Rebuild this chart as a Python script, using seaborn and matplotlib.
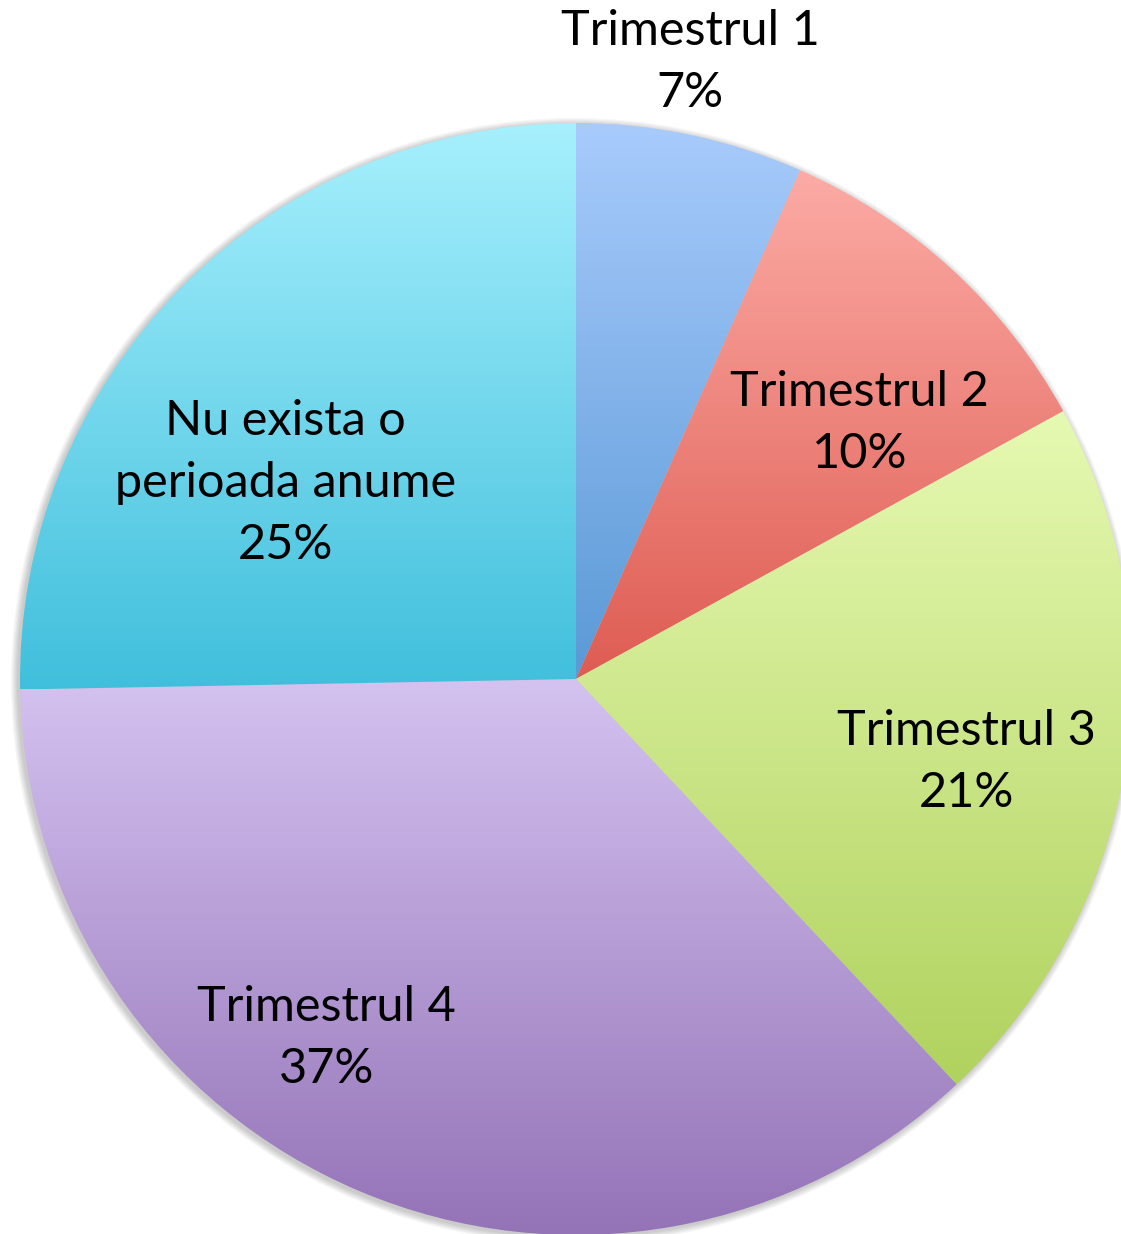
import numpy as np
import matplotlib
matplotlib.use("Agg")
import matplotlib.pyplot as plt
import seaborn as sns
from matplotlib.colors import LinearSegmentedColormap

sns.set_theme(style="white")
plt.rcParams['font.family'] = ['Lato', 'DejaVu Sans']

# data
names = ["Trimestrul 1", "Trimestrul 2", "Trimestrul 3", "Trimestrul 4", "Nu exista o\nperioada anume"]
values = [6.6, 10.4, 21.0, 36.7, 25.3]
shown_pct = [7, 10, 21, 37, 25]

# gradient colours (top, bottom) for each slice
top_cols = ["#a8cbfc", "#fcaba5", "#e6f9b2", "#d4c2f0", "#a7f0fd"]
bot_cols = ["#5a99d6", "#de5c52", "#b0d25e", "#9473b7", "#40bfdc"]

# label placement: radius as fraction of R, angle tweak in degrees
label_r = [1.128, 0.687, 0.718, 0.786, 0.63]
label_dang = [-1.4, 5.5, 3.0, 12.0, -10.5]

W, H = 1121, 1234
fig = plt.figure(figsize=(W / 100, H / 100), dpi=100)
ax = fig.add_axes([0, 0, 1, 1])

cx, cy, R = 576, H - 679, 556

wedges, _ = ax.pie(values, center=(cx, cy), radius=R, startangle=90,
                   counterclock=False, wedgeprops=dict(linewidth=0))

# soft shadow behind the pie
for k in range(6):
    ax.add_patch(plt.Circle((cx - 2, cy - 2), R + 1 + k * 1.2, color="black",
                            alpha=0.035, zorder=0, lw=0))

grad = np.linspace(0, 1, 256).reshape(-1, 1)
for w, c1, c2 in zip(wedges, top_cols, bot_cols):
    w.set_facecolor("none")
    w.set_zorder(2)
    bb = w.get_path().get_extents(w.get_patch_transform())
    cmap = LinearSegmentedColormap.from_list("g", [c1, c2])
    im = ax.imshow(grad, cmap=cmap, aspect="auto",
                   extent=[bb.x0, bb.x1, bb.y0, bb.y1], origin="upper",
                   zorder=1, interpolation="bilinear")
    im.set_clip_path(w)

# labels
total = sum(values)
cum = 0
for i, v in enumerate(values):
    mid = (cum + v / 2) / total * 360 + label_dang[i]
    cum += v
    a = np.deg2rad(90 - mid)
    x = cx + label_r[i] * R * np.cos(a)
    y = cy + label_r[i] * R * np.sin(a)
    ax.text(x, y, f"{names[i]}\n{shown_pct[i]}%", ha="center", va="center",
            fontsize=35, color="black", linespacing=1.5, zorder=5)

ax.set_xlim(0, W)
ax.set_ylim(0, H)
ax.set_aspect("auto")
ax.axis("off")

fig.savefig("out.png", dpi=100)
